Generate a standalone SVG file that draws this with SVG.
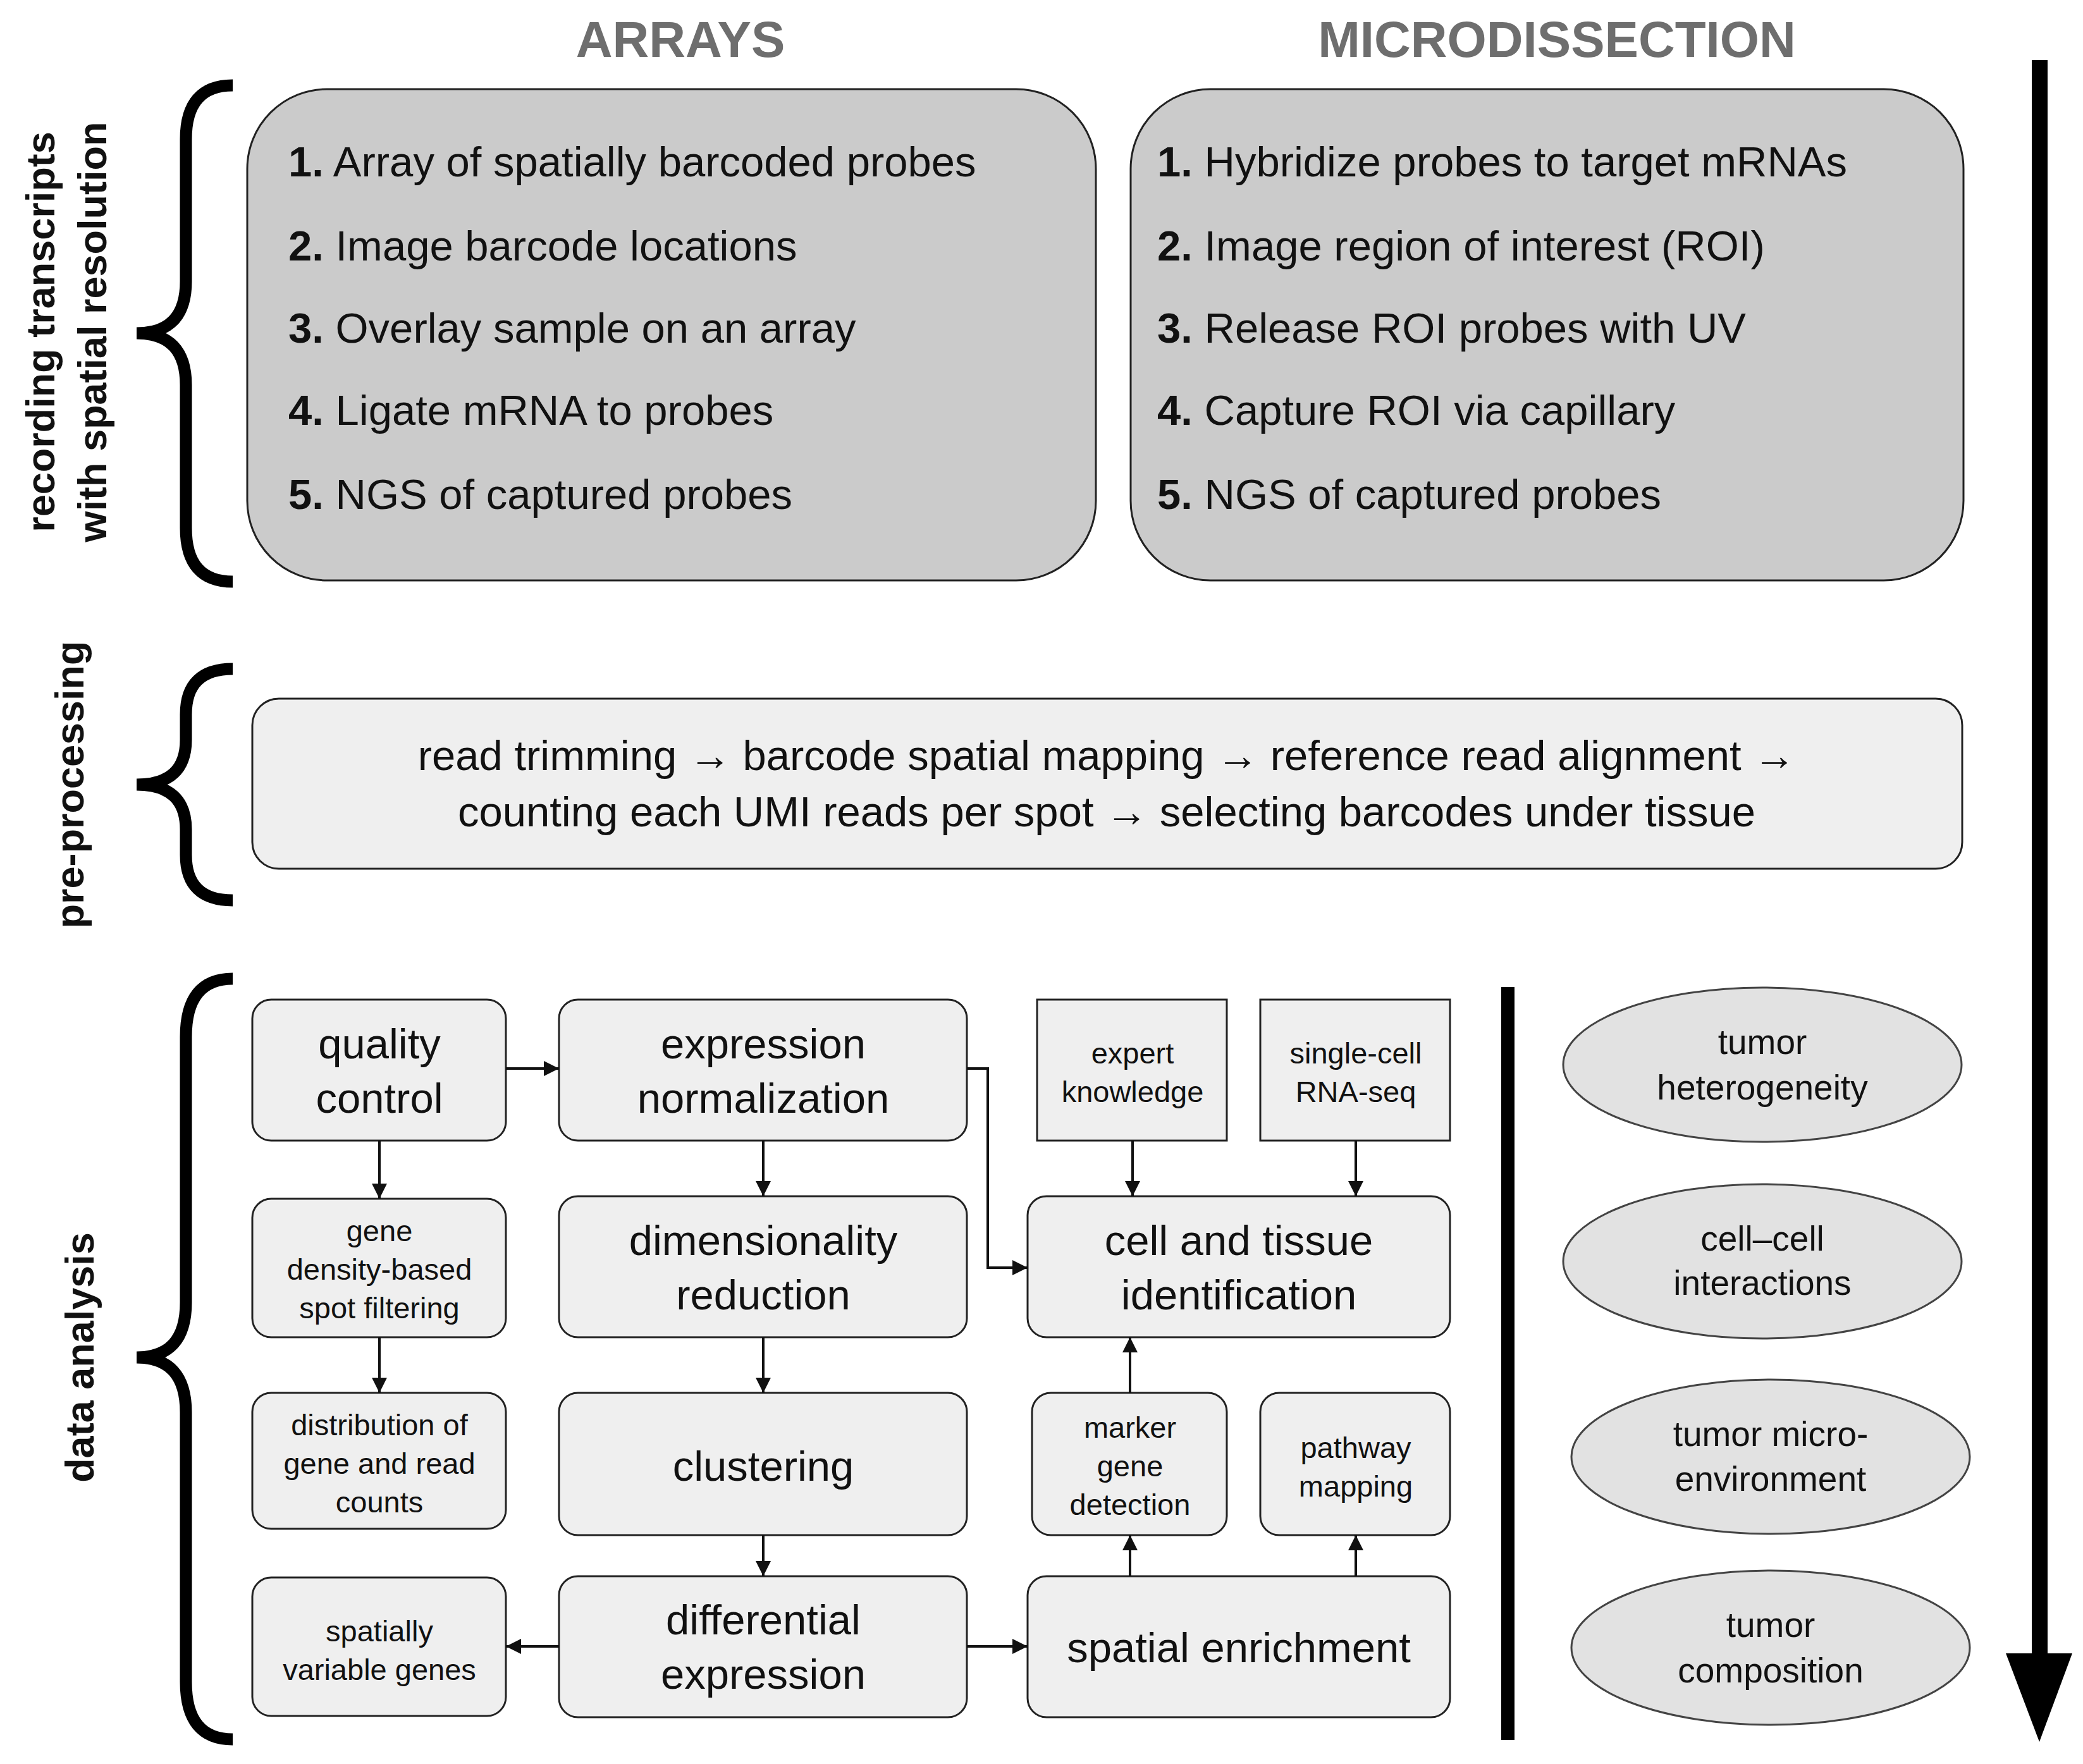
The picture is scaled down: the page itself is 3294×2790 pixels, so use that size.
<svg xmlns="http://www.w3.org/2000/svg" width="3294" height="2790" viewBox="0 0 3294 2790">
<style>
text{font-family:"Liberation Sans",Arial,sans-serif;fill:#111}
.t{font-size:80px;font-weight:bold;fill:#6e6e6e;text-anchor:middle}
.side{font-size:63px;font-weight:bold;text-anchor:middle}
.top{fill:#cbcbcb;stroke:#222;stroke-width:3}
.step{font-size:67px}
.step tspan.n{font-weight:bold}
.box{fill:#efefef;stroke:#222;stroke-width:3}
.big{font-size:67px;text-anchor:middle}
.sm{font-size:47px;text-anchor:middle}
.el{fill:#e2e2e2;stroke:#444;stroke-width:3}
.et{font-size:55px;text-anchor:middle}
.brace{fill:none;stroke:#000;stroke-width:19}
.c{fill:none;stroke:#111;stroke-width:4}
</style>
<defs>
<marker id="ah" viewBox="0 0 10 10" refX="10" refY="5" markerWidth="6" markerHeight="6" markerUnits="strokeWidth" orient="auto"><path d="M0,0L10,5L0,10z" fill="#111"/></marker>
</defs>
<rect width="3294" height="2790" fill="#fff"/>
<text class="t" x="1076" y="90">ARRAYS</text>
<text class="t" x="2462" y="90">MICRODISSECTION</text>

<g id="labels">
<text class="side" transform="translate(86,525) rotate(-90)">recording transcripts</text>
<text class="side" transform="translate(168,525) rotate(-90)">with spatial resolution</text>
<text class="side" transform="translate(132,1241) rotate(-90)">pre-processing</text>
<text class="side" transform="translate(148,2147) rotate(-90)">data analysis</text>
</g>
<g id="braces">
<path class="brace" d="M368,135 Q294,135 294,220 L294,445 Q294,527 216,527 Q294,527 294,609 L294,835 Q294,920 368,920"/>
<path class="brace" d="M368,1058 Q294,1058 294,1130 L294,1170 Q294,1241 216,1241 Q294,1241 294,1312 L294,1352 Q294,1424 368,1424"/>
<path class="brace" d="M368,1548 Q294,1548 294,1640 L294,2060 Q294,2147 216,2147 Q294,2147 294,2234 L294,2660 Q294,2751 368,2751"/>
</g>

<g id="arrays">
<rect class="top" x="391" y="141" width="1342" height="777" rx="126"/>
<text class="step" x="456" y="279"><tspan class="n">1.</tspan> Array of spatially barcoded probes</text>
<text class="step" x="456" y="412"><tspan class="n">2.</tspan> Image barcode locations</text>
<text class="step" x="456" y="542"><tspan class="n">3.</tspan> Overlay sample on an array</text>
<text class="step" x="456" y="672"><tspan class="n">4.</tspan> Ligate mRNA to probes</text>
<text class="step" x="456" y="805"><tspan class="n">5.</tspan> NGS of captured probes</text>
</g>
<g id="microdissection">
<rect class="top" x="1788" y="141" width="1317" height="777" rx="126"/>
<text class="step" x="1830" y="279"><tspan class="n">1.</tspan> Hybridize probes to target mRNAs</text>
<text class="step" x="1830" y="412"><tspan class="n">2.</tspan> Image region of interest (ROI)</text>
<text class="step" x="1830" y="542"><tspan class="n">3.</tspan> Release ROI probes with UV</text>
<text class="step" x="1830" y="672"><tspan class="n">4.</tspan> Capture ROI via capillary</text>
<text class="step" x="1830" y="805"><tspan class="n">5.</tspan> NGS of captured probes</text>
</g>
<g id="preprocessing">
<rect class="box" x="399" y="1105" width="2704" height="269" rx="42"/>
<text class="big" x="1750" y="1218">read trimming → barcode spatial mapping → reference read alignment →</text>
<text class="big" x="1750" y="1307">counting each UMI reads per spot → selecting barcodes under tissue</text>
</g>

<g id="qc"><rect class="box" x="399" y="1581" width="401" height="223" rx="30"/><text class="big" x="600" y="1674">quality</text><text class="big" x="600" y="1760">control</text></g>
<g id="norm"><rect class="box" x="884" y="1581" width="645" height="223" rx="30"/><text class="big" x="1207" y="1674">expression</text><text class="big" x="1207" y="1760">normalization</text></g>
<g id="expert"><rect class="box" x="1640" y="1581" width="300" height="223"/><text class="sm" x="1791" y="1682">expert</text><text class="sm" x="1791" y="1743">knowledge</text></g>
<g id="sc"><rect class="box" x="1993" y="1581" width="300" height="223"/><text class="sm" x="2144" y="1682">single-cell</text><text class="sm" x="2144" y="1743">RNA-seq</text></g>
<g id="gene"><rect class="box" x="399" y="1896" width="401" height="219" rx="30"/><text class="sm" x="600" y="1963">gene</text><text class="sm" x="600" y="2024">density-based</text><text class="sm" x="600" y="2085">spot filtering</text></g>
<g id="dim"><rect class="box" x="884" y="1892" width="645" height="223" rx="30"/><text class="big" x="1207" y="1985">dimensionality</text><text class="big" x="1207" y="2071">reduction</text></g>
<g id="cell"><rect class="box" x="1625" y="1892" width="668" height="223" rx="30"/><text class="big" x="1959" y="1985">cell and tissue</text><text class="big" x="1959" y="2071">identification</text></g>
<g id="dist"><rect class="box" x="399" y="2203" width="401" height="215" rx="30"/><text class="sm" x="600" y="2270">distribution of</text><text class="sm" x="600" y="2331">gene and read</text><text class="sm" x="600" y="2392">counts</text></g>
<g id="clust"><rect class="box" x="884" y="2203" width="645" height="225" rx="30"/><text class="big" x="1207" y="2342">clustering</text></g>
<g id="marker"><rect class="box" x="1632" y="2203" width="308" height="225" rx="30"/><text class="sm" x="1787" y="2274">marker</text><text class="sm" x="1787" y="2335">gene</text><text class="sm" x="1787" y="2396">detection</text></g>
<g id="pathway"><rect class="box" x="1993" y="2203" width="300" height="225" rx="30"/><text class="sm" x="2144" y="2306">pathway</text><text class="sm" x="2144" y="2367">mapping</text></g>
<g id="svg"><rect class="box" x="399" y="2495" width="401" height="219" rx="30"/><text class="sm" x="600" y="2596">spatially</text><text class="sm" x="600" y="2657">variable genes</text></g>
<g id="diff"><rect class="box" x="884" y="2493" width="645" height="223" rx="30"/><text class="big" x="1207" y="2585">differential</text><text class="big" x="1207" y="2671">expression</text></g>
<g id="enrich"><rect class="box" x="1625" y="2493" width="668" height="223" rx="30"/><text class="big" x="1959" y="2629">spatial enrichment</text></g>

<g id="connectors">
<path class="c" d="M800,1690H884" marker-end="url(#ah)"/>
<path class="c" d="M600,1804V1896" marker-end="url(#ah)"/>
<path class="c" d="M600,2115V2203" marker-end="url(#ah)"/>
<path class="c" d="M1207,1804V1892" marker-end="url(#ah)"/>
<path class="c" d="M1207,2115V2203" marker-end="url(#ah)"/>
<path class="c" d="M1207,2428V2493" marker-end="url(#ah)"/>
<path class="c" d="M1529,1690H1562V2005H1625" marker-end="url(#ah)"/>
<path class="c" d="M884,2604H800" marker-end="url(#ah)"/>
<path class="c" d="M1529,2604H1625" marker-end="url(#ah)"/>
<path class="c" d="M1791,1804V1892" marker-end="url(#ah)"/>
<path class="c" d="M2144,1804V1892" marker-end="url(#ah)"/>
<path class="c" d="M1787,2203V2115" marker-end="url(#ah)"/>
<path class="c" d="M1787,2493V2428" marker-end="url(#ah)"/>
<path class="c" d="M2144,2493V2428" marker-end="url(#ah)"/>
</g>

<rect x="2374" y="1561" width="21" height="1191" fill="#000"/>

<g id="e1"><ellipse class="el" cx="2787" cy="1684" rx="315" ry="122"/><text class="et" x="2787" y="1667">tumor</text><text class="et" x="2787" y="1739">heterogeneity</text></g>
<g id="e2"><ellipse class="el" cx="2787" cy="1995" rx="315" ry="122"/><text class="et" x="2787" y="1978">cell–cell</text><text class="et" x="2787" y="2048">interactions</text></g>
<g id="e3"><ellipse class="el" cx="2800" cy="2304" rx="315" ry="122"/><text class="et" x="2800" y="2287">tumor micro-</text><text class="et" x="2800" y="2358">environment</text></g>
<g id="e4"><ellipse class="el" cx="2800" cy="2606" rx="315" ry="122"/><text class="et" x="2800" y="2589">tumor</text><text class="et" x="2800" y="2661">composition</text></g>

<g id="timeline">
<rect x="3213" y="95" width="25" height="2530" fill="#000"/>
<path d="M3172,2615H3277L3225,2755z" fill="#000"/>
</g>
</svg>
